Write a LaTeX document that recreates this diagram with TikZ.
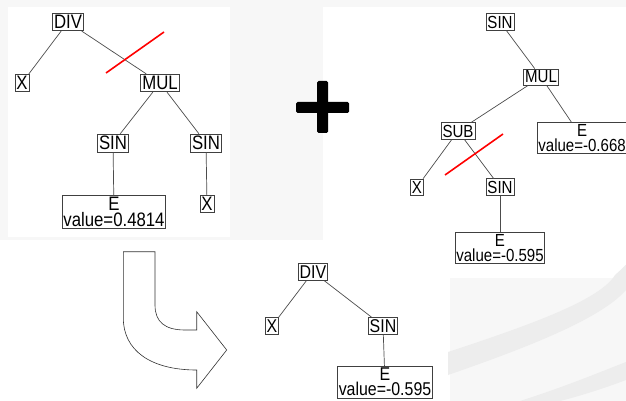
\documentclass[tikz,border=0pt]{standalone}
\usepackage{fontspec}
\setmainfont{Liberation Sans}
\newfontfamily\treefont[FakeStretch=0.86]{Liberation Sans}
\begin{document}
\begin{tikzpicture}[x=1pt,y=-1pt,
  tbox/.style={draw=black!75, line width=0.7pt, fill=white, inner xsep=1.5pt, inner ysep=2pt, align=center},
  fl/.style={font=\treefont\fontsize{19.5}{15.5}\selectfont},
  fr/.style={font=\treefont\fontsize{17.5}{15}\selectfont},
  fb/.style={font=\treefont\fontsize{18.5}{15}\selectfont},
  ebox/.style={tbox, inner xsep=1pt, inner ysep=1.8pt},
  edge/.style={draw=black!70, line width=0.7pt},
  cut/.style={draw=red, line width=1.6pt},
  swoosh/.style={fill=black!7, draw=none}]
\useasboundingbox (0,0) rectangle (626,401);
\fill[black!3] (0,0) rectangle (626,401);
\fill[white] (8,7) rectangle (230,237);
\fill[white] (323,7) rectangle (626,278);
\fill[white] (0,240) rectangle (450,401);
% background swooshes
\path[swoosh] (448,352) .. controls (530,325) and (600,300) .. (615,275)
  .. controls (630,262) and (626,262) .. (626,270) -- (626,290)
  .. controls (600,320) and (520,350) .. (448,375) -- cycle;
\path[swoosh] (520,401) .. controls (570,385) and (605,370) .. (626,362) -- (626,380)
  .. controls (605,388) and (580,396) .. (560,401) -- cycle;
% left tree
\node[tbox,fl] (ldiv) at (68,22) {DIV};
\node[tbox,fl] (lx) at (22,83) {X};
\node[tbox,fl] (lmul) at (160,83) {MUL};
\node[tbox,fl] (lsina) at (113,143) {SIN};
\node[tbox,fl] (lsinb) at (206,143) {SIN};
\node[ebox,fl] (le) at (114,212) {E\\value=0.4814};
\node[tbox,fl] (lx2) at (207,204) {X};
\draw[edge] (ldiv) -- (lx);
\draw[edge] (ldiv) -- (lmul);
\draw[edge] (lmul) -- (lsina);
\draw[edge] (lmul) -- (lsinb);
\draw[edge] (lsina) -- (le);
\draw[edge] (lsinb) -- (lx2);
\coordinate (lc1) at (106,73);
\coordinate (lc2) at (164,32);
\draw[cut] (lc1) -- (lc2);
% plus
\fill[black, rounded corners=1.5pt] (317,81) rectangle (328,133);
\fill[black, rounded corners=1.5pt] (296,102) rectangle (349,113);
% right tree
\node[tbox,fr] (rsin) at (500,22) {SIN};
\node[tbox,fr] (rmul) at (541,77) {MUL};
\node[tbox,fr] (rsub) at (458,131) {SUB};
\node[ebox,fr, anchor=west] (re1) at (537,138) {E\\value=-0.668};
\node[tbox,fr] (rx) at (417,187) {X};
\node[tbox,fr] (rsin2) at (500,187) {SIN};
\node[ebox,fr] (re2) at (500,248) {E\\value=-0.595};
\draw[edge] (rsin) -- (rmul);
\draw[edge] (rmul) -- (rsub);
\draw[edge] (rmul) -- (re1);
\draw[edge] (rsub) -- (rx);
\draw[edge] (rsub) -- (rsin2);
\draw[edge] (rsin2) -- (re2);
\coordinate (rc1) at (445,175);
\coordinate (rc2) at (503,134);
\draw[cut] (rc1) -- (rc2);
% bent arrow
\draw[black!80, line width=0.6pt, fill=white] (123.3,251.7) -- (155,251.7) -- (155,305)
  .. controls (155,322) and (165,330) .. (185,330) -- (196.7,330) -- (196.7,311.7)
  -- (226.7,350) -- (196.7,388.3) -- (196.7,370)
  .. controls (150,370) and (123.3,350) .. (123.3,318) -- cycle;
% result tree
\node[tbox,fb] (bdiv) at (313,272) {DIV};
\node[tbox,fb] (bx) at (272,326) {X};
\node[tbox,fb] (bsin) at (383,326) {SIN};
\node[ebox,fb,anchor=north] (be) at (385,366) {E\\value=-0.595};
\draw[edge] (bdiv) -- (bx);
\draw[edge] (bdiv) -- (bsin);
\draw[edge] (bsin) -- (be);
\end{tikzpicture}
\end{document}
